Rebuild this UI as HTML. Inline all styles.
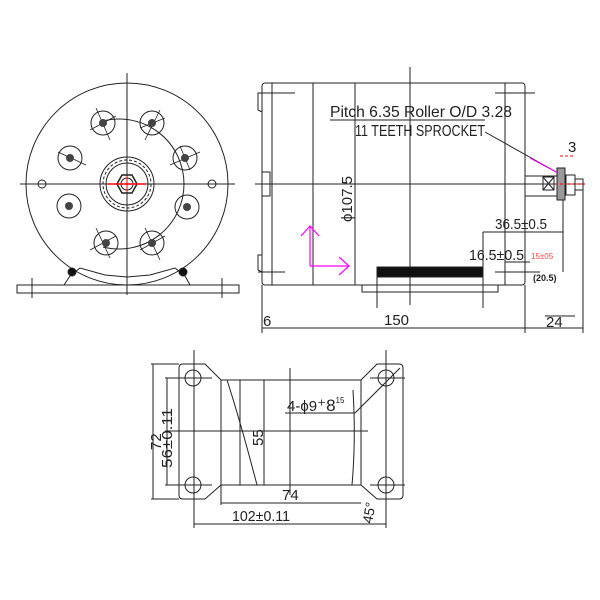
<!DOCTYPE html>
<html><head><style>body{margin:0;background:#fff}svg{display:block}text{font-family:"Liberation Sans Narrow","Liberation Sans",sans-serif;fill:#222}</style></head>
<body>
<svg width="600" height="600" viewBox="0 0 600 600" xmlns="http://www.w3.org/2000/svg" stroke="#222" fill="none" stroke-width="1">
<!-- FRONT VIEW -->
<circle cx="127" cy="184" r="101"/>
<path d="M103 121 A65 65 0 1 1 103 247" />
<line x1="127" y1="73" x2="127" y2="295"/>
<line x1="20" y1="184" x2="235" y2="184"/>
<g>
<circle cx="103" cy="123" r="12"/><circle cx="152" cy="123" r="12"/>
<circle cx="185" cy="158" r="12"/><circle cx="187" cy="207" r="12"/>
<circle cx="152" cy="243" r="12"/><circle cx="106" cy="243" r="12"/>
<circle cx="70" cy="158" r="12"/><circle cx="69" cy="206" r="12"/>
</g>
<g stroke-width="0.8">
<path d="M96 108 L110 140 M90 130 L116 116"/><path d="M160 110 L145 140 M140 128 L165 118"/>
<path d="M170 165 L200 152 M180 146 L190 170"/><path d="M58 152 L86 165"/>
<path d="M96 228 L110 258 M90 250 L116 236"/><path d="M145 228 L160 260 M140 250 L165 236"/>
</g>
<g fill="#444" stroke="none">
<circle cx="103" cy="123" r="4"/><circle cx="152" cy="123" r="4"/><circle cx="185" cy="158" r="4"/><circle cx="187" cy="207" r="4"/>
<circle cx="152" cy="243" r="4"/><circle cx="106" cy="243" r="4"/><circle cx="70" cy="158" r="4"/><circle cx="69" cy="206" r="4"/>
</g>
<circle cx="127" cy="184" r="27"/><circle cx="127" cy="184" r="24" stroke-dasharray="3 2"/><circle cx="127" cy="184" r="21"/>
<polygon points="117,184 122,175 132,175 137,184 132,193 122,193" stroke-width="1.5"/>
<circle cx="127" cy="184" r="6"/>
<line x1="108" y1="184" x2="146" y2="184" stroke="#f00" stroke-width="1.5"/>
<line x1="127" y1="176" x2="127" y2="192" stroke="#f00"/>
<circle cx="42" cy="184" r="4"/><circle cx="212" cy="184" r="4"/>
<rect x="17" y="285" width="222" height="8"/>
<path d="M64 285 L70 276 L80 268 L105 275 L127 277 L150 275 L175 268 L185 276 L190 285"/>
<circle cx="72" cy="272" r="4" fill="#111"/><circle cx="183" cy="272" r="4" fill="#111"/>
<line x1="32" y1="278" x2="32" y2="298"/><line x1="222" y1="278" x2="222" y2="298"/>
<!-- SIDE VIEW -->
<rect x="262" y="83" width="263" height="202" rx="3"/>
<line x1="272" y1="83" x2="272" y2="285"/>
<line x1="313" y1="83" x2="313" y2="285"/><line x1="355" y1="83" x2="355" y2="285"/><line x1="505" y1="83" x2="505" y2="285"/>
<line x1="410" y1="67" x2="410" y2="305"/>
<line x1="255" y1="184" x2="585" y2="184"/>
<path d="M262 93 L258 93 L258 110 L262 112 M262 255 L258 255 L258 270 L262 272"/>
<line x1="258" y1="93" x2="295" y2="93"/><line x1="258" y1="272" x2="285" y2="272"/>
<line x1="495" y1="93" x2="535" y2="93"/><line x1="495" y1="272" x2="540" y2="272"/>
<rect x="262" y="172" width="8" height="24"/>
<rect x="377" y="267" width="106" height="10" fill="#111"/>
<rect x="377" y="277" width="106" height="8"/>
<rect x="362" y="285" width="136" height="7"/>
<line x1="377" y1="267" x2="377" y2="308"/><line x1="483" y1="267" x2="483" y2="308"/>
<line x1="525" y1="176" x2="560" y2="176"/><line x1="525" y1="196" x2="560" y2="196"/>
<rect x="543" y="177" width="11" height="13"/><path d="M543 177 L554 190 M554 177 L543 190"/>
<rect x="557" y="168" width="8" height="32" fill="#999"/>
<rect x="566" y="175" width="9" height="20"/><rect x="575" y="179" width="8" height="11"/>
<line x1="555" y1="184" x2="585" y2="184" stroke="#f00" stroke-dasharray="3 2"/>
<line x1="330" y1="120" x2="485" y2="120"/>
<line x1="485" y1="132" x2="558" y2="173"/>
<line x1="530" y1="158" x2="558" y2="173" stroke="#e0e"/>
<text x="330" y="117" font-size="16" stroke="none" textLength="182" lengthAdjust="spacingAndGlyphs">Pitch 6.35 Roller O/D 3.28</text>
<text x="355" y="136" font-size="16" stroke="none" textLength="130" lengthAdjust="spacingAndGlyphs">11 TEETH SPROCKET</text>
<text x="568" y="152" font-size="15" stroke="none">3</text>
<line x1="560" y1="156" x2="575" y2="156" stroke="#f00" stroke-dasharray="3 2"/>
<text transform="translate(352 222) rotate(-90)" font-size="15" stroke="none" textLength="46" lengthAdjust="spacingAndGlyphs">ϕ107.5</text>
<line x1="483" y1="232" x2="563" y2="232"/><line x1="483" y1="232" x2="483" y2="267"/>
<line x1="563" y1="200" x2="563" y2="272"/><line x1="505" y1="262" x2="530" y2="262"/>
<text x="495" y="229" font-size="15" stroke="none" textLength="52" lengthAdjust="spacingAndGlyphs">36.5±0.5</text>
<text x="469" y="260" font-size="15" stroke="none" textLength="55" lengthAdjust="spacingAndGlyphs">16.5±0.5</text>
<text x="531" y="259" font-size="8" stroke="none" style="fill:#f44">15±05</text>
<text x="533" y="281" font-size="9" font-weight="bold" stroke="none">(20.5)</text>
<line x1="262" y1="285" x2="262" y2="333"/><line x1="525" y1="285" x2="525" y2="333"/><line x1="583" y1="190" x2="583" y2="333"/>
<line x1="262" y1="328" x2="583" y2="328"/>
<line x1="545" y1="316" x2="575" y2="316"/>
<text x="263" y="326" font-size="15" stroke="none">6</text>
<text x="384" y="325" font-size="15" stroke="none">150</text>
<text x="546" y="327" font-size="15" stroke="none">24</text>
<g stroke="#f0f" stroke-width="1.2">
<path d="M310 266 L310 226 M301 236 L310 226 L319 236"/>
<path d="M310 266 L349 266 M339 257 L349 266 L339 275"/>
</g>
<!-- BOTTOM VIEW -->
<path d="M183 364 L205 364 L221 380 L361 380 L377 364 L399 364 Q403 364 403 368 L403 495 Q403 499 399 499 L377 499 L361 485 L221 485 L205 499 L183 499 Q179 499 179 495 L179 368 Q179 364 183 364 Z"/>
<circle cx="193" cy="378" r="8"/><circle cx="193" cy="485" r="8"/><circle cx="386" cy="378" r="8"/><circle cx="386" cy="485" r="8"/>
<line x1="194" y1="350" x2="194" y2="528"/><line x1="386" y1="350" x2="386" y2="528"/>
<line x1="165" y1="378" x2="212" y2="378"/><line x1="165" y1="485" x2="212" y2="485"/>
<line x1="370" y1="378" x2="405" y2="378"/><line x1="370" y1="485" x2="405" y2="485"/>
<line x1="221" y1="380" x2="221" y2="505"/><line x1="361" y1="380" x2="361" y2="485"/>
<line x1="240" y1="380" x2="240" y2="485"/><line x1="264" y1="380" x2="264" y2="485"/>
<path d="M227 380 Q240 420 257 485"/><path d="M353 390 Q356 440 352 485"/>
<line x1="290" y1="368" x2="290" y2="495"/>
<line x1="165" y1="431" x2="368" y2="431"/>
<line x1="151" y1="364" x2="179" y2="364"/><line x1="151" y1="499" x2="179" y2="499"/>
<line x1="153" y1="364" x2="153" y2="499"/><line x1="167" y1="378" x2="167" y2="485"/>
<text transform="translate(161 450) rotate(-90)" font-size="15" stroke="none">72</text>
<text transform="translate(172 468) rotate(-90)" font-size="15" stroke="none" textLength="60" lengthAdjust="spacingAndGlyphs">56±0.11</text>
<text transform="translate(263 446) rotate(-90)" font-size="15" stroke="none">55</text>
<line x1="285" y1="413" x2="355" y2="413"/><line x1="355" y1="413" x2="400" y2="368"/>
<text x="287" y="411" font-size="15" stroke="none">4-ϕ9<tspan font-size="17">⁺8</tspan><tspan font-size="8" dy="-8">15</tspan></text>
<line x1="221" y1="503" x2="361" y2="503"/>
<text x="282" y="500" font-size="15" stroke="none">74</text>
<line x1="194" y1="524" x2="386" y2="524"/>
<text x="232" y="521" font-size="15" stroke="none" textLength="58" lengthAdjust="spacingAndGlyphs">102±0.11</text>
<text transform="translate(372 524) rotate(-80)" font-size="14" stroke="none">45°</text>
</svg>
</body></html>
